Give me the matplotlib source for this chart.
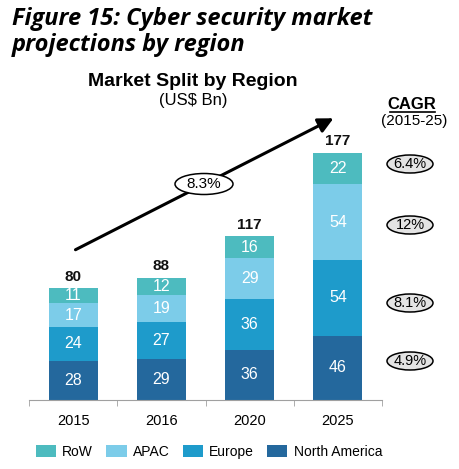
import matplotlib
matplotlib.use("Agg")
import matplotlib.pyplot as plt
from matplotlib.patches import Ellipse, FancyArrowPatch

years = ["2015", "2016", "2020", "2025"]
north_america = [28, 29, 36, 46]
europe = [24, 27, 36, 54]
apac = [17, 19, 29, 54]
row = [11, 12, 16, 22]
totals = [80, 88, 117, 177]
series_names = ["North America", "Europe", "APAC", "RoW"]
series_colors = ["#24689D", "#1E9BCB", "#7CCCE9", "#4DBBBF"]
cagr_labels = ["4.9%", "8.1%", "12%", "6.4%"]
overall_cagr = "8.3%"

W, H = 459, 469
fig = plt.figure(figsize=(W / 100, H / 100), dpi=100)
fig.patch.set_facecolor("white")

def fx(px):
    return px / W

def fy(py):
    return 1 - py / H

# axes: x from 29px to 382px, baseline at 400px, top at 100px
ax = fig.add_axes([fx(29), fy(400), fx(382) - fx(29), fy(100) - fy(400)])
ax.set_xlim(-0.5, 3.5)
ax.set_ylim(0, 300 / 1.401)

x = list(range(len(years)))
series = [north_america, europe, apac, row]
bottoms = [0] * len(years)
handles = []
for vals, name, col in zip(series, series_names, series_colors):
    b = ax.bar(x, vals, bottom=bottoms, width=0.555, color=col, label=name, linewidth=0)
    handles.append(b)
    for xi, v, bo in zip(x, vals, bottoms):
        ax.text(xi, bo + v / 2, str(v), ha="center", va="center", color="white",
                fontsize=11.5, family="Liberation Sans")
    bottoms = [bo + v for bo, v in zip(bottoms, vals)]

for xi, t in zip(x, totals):
    ax.text(xi, t + 3, str(t), ha="center", va="bottom", fontsize=11, fontweight="bold",
            family="Liberation Sans", color="#111111")

for s in ["top", "right", "left"]:
    ax.spines[s].set_visible(False)
ax.spines["bottom"].set_color("#A0A0A0")
ax.set_yticks([])
ax.set_xticks(x)
ax.set_xticklabels(years, fontsize=10.5, family="Liberation Sans")
ax.tick_params(axis="x", length=0, pad=10)
ax.set_xticks([-0.5, 0.5, 1.5, 2.5, 3.5], minor=True)
ax.tick_params(axis="x", which="minor", length=4, color="#A0A0A0", direction="out")

# Title
fig.text(fx(12), fy(19), "Figure 15: Cyber security market", fontsize=17, fontweight="bold",
         style="italic", family="Open Sans", va="center", ha="left")
fig.text(fx(12), fy(45), "projections by region", fontsize=17, fontweight="bold",
         style="italic", family="Open Sans", va="center", ha="left")

fig.text(fx(193), fy(82), "Market Split by Region", fontsize=14, fontweight="bold",
         family="Liberation Sans", ha="center", va="center")
fig.text(fx(193), fy(100), "(US$ Bn)", fontsize=12, family="Liberation Sans",
         ha="center", va="center")

fig.text(fx(412), fy(104), "CAGR", fontsize=12, fontweight="bold", family="Liberation Sans",
         ha="center", va="center")
fig.add_artist(plt.Line2D([fx(390), fx(435)], [fy(112), fy(112)], color="black", lw=1.2,
                          transform=fig.transFigure))
fig.text(fx(414), fy(121), "(2015-25)", fontsize=11, family="Liberation Sans",
         ha="center", va="center")

# growth arrow
arr = FancyArrowPatch((fx(73), fy(251)), (fx(336), fy(117)), transform=fig.transFigure,
                      arrowstyle="-|>,head_length=6,head_width=3", color="black", lw=2.2,
                      mutation_scale=1.5)
fig.add_artist(arr)

def oval(cx, cy, w, h, label, face, size):
    e = Ellipse((fx(cx), fy(cy)), fx(w), h / H, transform=fig.transFigure,
                facecolor=face, edgecolor="black", lw=1.1, zorder=5)
    fig.add_artist(e)
    fig.text(fx(cx), fy(cy), label, fontsize=size, family="Liberation Sans",
             ha="center", va="center", zorder=6)

oval(204, 184, 58, 21, overall_cagr, "white", 11)
cagr_y = [361, 303, 225, 164]
for yy, lab in zip(cagr_y, cagr_labels):
    oval(410, yy, 46, 18, lab, "#E4E4E4", 10.5)

# legend
leg = fig.legend(handles=handles[::-1], labels=series_names[::-1], loc="center",
                 bbox_to_anchor=(fx(209), fy(452)), ncol=4, frameon=False,
                 prop={"family": "Liberation Sans", "size": 10},
                 handlelength=1.45, handleheight=0.9, handletextpad=0.45, columnspacing=0.95)

fig.savefig("out.png", dpi=100, facecolor="white")
